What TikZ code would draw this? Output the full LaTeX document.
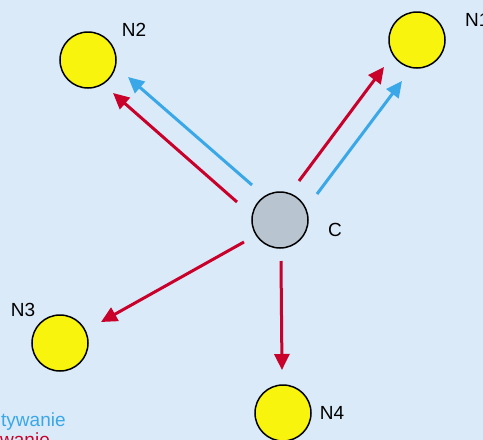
\documentclass[tikz,border=0pt]{standalone}
\usepackage{fontspec}
\setmainfont{Liberation Sans}
\usetikzlibrary{arrows.meta}
\definecolor{bgc}{HTML}{DAEAF8}
\definecolor{nodey}{HTML}{F8F40E}
\definecolor{nodeg}{HTML}{B8C5D1}
\definecolor{redc}{HTML}{C8002A}
\definecolor{bluec}{HTML}{3AA8E8}
\tikzset{
  peer/.style={circle, draw=black, line width=1.5pt, fill=nodey, minimum size=56pt, inner sep=0pt},
  center/.style={peer, fill=nodeg},
  lbl/.style={font=\fontsize{19}{22}\selectfont, inner sep=0pt},
  redarrow/.style={draw=redc, line width=3pt, -{Triangle[length=16pt,width=15pt]}},
  bluearrow/.style={draw=bluec, line width=3pt, -{Triangle[length=16pt,width=15pt]}},
}
\begin{document}
\begin{tikzpicture}[x=1pt,y=-1pt]
\useasboundingbox (0,0) rectangle (483,440);
\fill[bgc] (0,0) rectangle (483,440);
\begin{scope}
\clip (0,0) rectangle (483,440);
\node[peer] (N2) at (88,60) {};
\node[peer] (N1) at (417,40) {};
\node[center] (C) at (280,220) {};
\node[peer] (N3) at (60,343) {};
\node[peer] (N4) at (283,413) {};
\node[lbl] (lN2) at (134,30) {N2};
\node[lbl, anchor=west] (lN1) at (465,20) {N1};
\node[lbl] (lC) at (335,230) {C};
\node[lbl] (lN3) at (23,310) {N3};
\node[lbl] (lN4) at (332,413) {N4};
\node[lbl, anchor=base west, text=bluec] (lread) at (1,426) {tywanie};
\node[lbl, anchor=base west, text=redc] (lwrite) at (0,446) {wanie};
% connector end points
\coordinate (b2s) at (252,185);
\coordinate (b2e) at (128,77);
\coordinate (r2s) at (237,202);
\coordinate (r2e) at (113,93);
\coordinate (r1s) at (299,181);
\coordinate (r1e) at (384,67);
\coordinate (b1s) at (317,194);
\coordinate (b1e) at (402,81);
\coordinate (r3s) at (244,242);
\coordinate (r3e) at (101,322);
\coordinate (r4s) at (281,261);
\coordinate (r4e) at (282,370);
\draw[bluearrow] (b2s) -- (b2e);
\draw[redarrow] (r2s) -- (r2e);
\draw[redarrow] (r1s) -- (r1e);
\draw[bluearrow] (b1s) -- (b1e);
\draw[redarrow] (r3s) -- (r3e);
\draw[redarrow] (r4s) -- (r4e);
\end{scope}
\end{tikzpicture}
\end{document}
